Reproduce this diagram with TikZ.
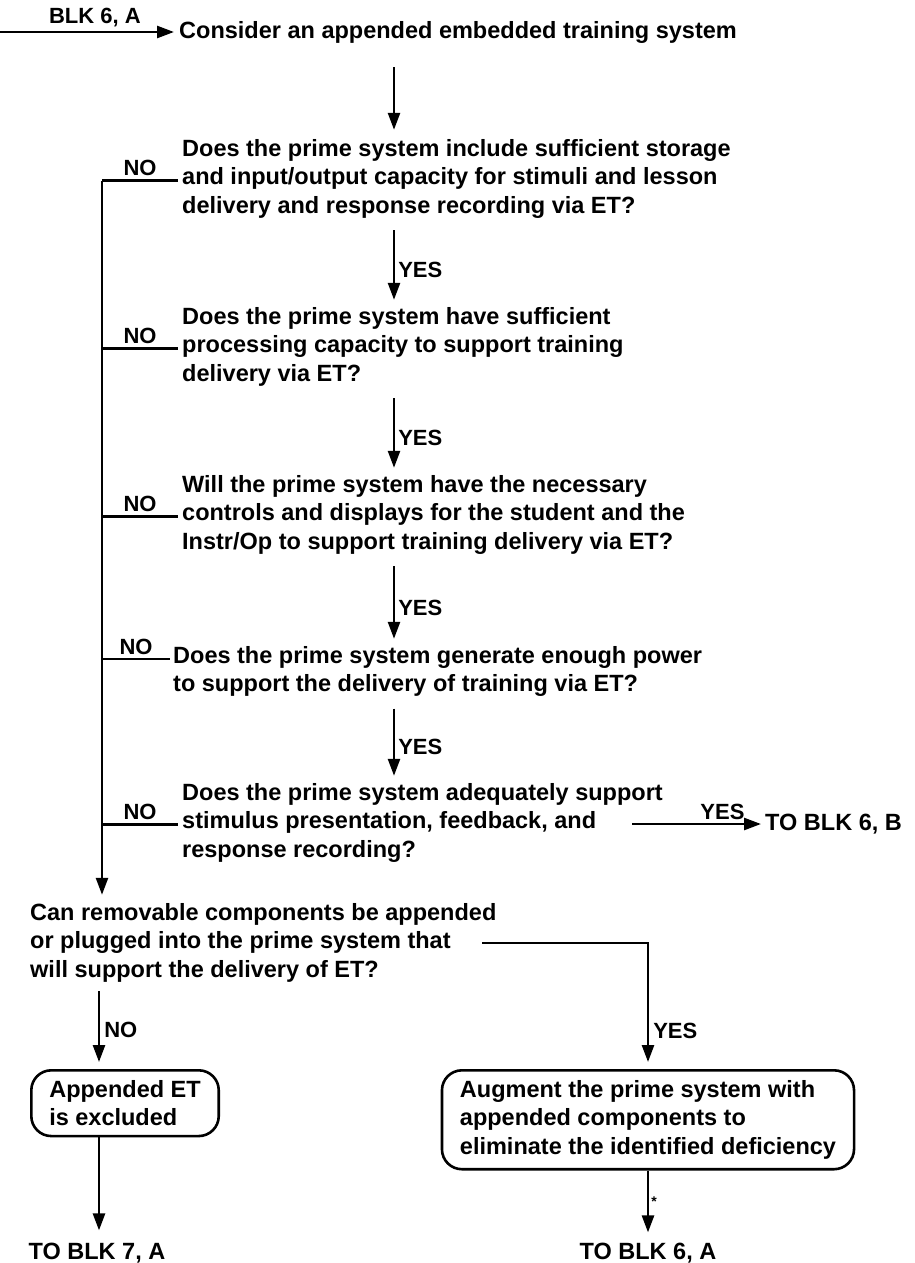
\documentclass[tikz,border=0pt]{standalone}
\usepackage{fontspec}
\setmainfont{Liberation Sans}
\usetikzlibrary{arrows.meta}
\begin{document}
\begin{tikzpicture}[x=1pt,y=-1pt,
  txt/.style={inner sep=0pt, align=left, font=\fontsize{23.5}{28.5}\selectfont\bfseries},
  lbl/.style={inner sep=0pt, font=\fontsize{22}{24}\selectfont\bfseries},
  ln/.style={line width=2.6pt},
  arr/.style={ln, -{Triangle[length=17pt,width=12pt]}},
  box/.style={txt, draw, line width=2.6pt, rounded corners=20pt, inner xsep=18pt, inner ysep=10pt}
]
\useasboundingbox (0,0) rectangle (914,1263);

% guide columns for the vertical connectors
\coordinate (spine) at (102,0);
\coordinate (mid) at (394,0);
\coordinate (colL) at (99,0);

% entry
\coordinate (entry) at (0,32);
\node[txt, anchor=base west] (consider) at (179,38) {Consider an appended embedded training system};
\draw[arr, shorten >=5pt] (entry) -- node[lbl, above=4pt, pos=0.53] {BLK 6, A} (entry -| consider.west);

% questions (anchored at the baseline of their last line)
\node[txt, anchor=base west] (q1) at (182,213) {Does the prime system include sufficient storage\\and input/output capacity for stimuli and lesson\\delivery and response recording via ET?};
\node[txt, anchor=base west] (q2) at (182,381) {Does the prime system have sufficient\\processing capacity to support training\\delivery via ET?};
\node[txt, anchor=base west] (q3) at (182,549) {Will the prime system have the necessary\\controls and displays for the student and the\\Instr/Op to support training delivery via ET?};
\node[txt, anchor=base west] (q4) at (173,691.5) {Does the prime system generate enough power\\to support the delivery of training via ET?};
\node[txt, anchor=base west] (q5) at (182,857) {Does the prime system adequately support\\stimulus presentation, feedback, and\\response recording?};
\node[txt, anchor=base west] (can) at (30,977) {Can removable components be appended\\or plugged into the prime system that\\will support the delivery of ET?};

% outcomes
\node[box, anchor=north west] (excl) at (30,1069) {Appended ET\\is excluded};
\node[box, anchor=north] (aug) at (648,1069) {Augment the prime system with\\appended components to\\eliminate the identified deficiency};
\node[txt, anchor=west] (blkB) at (765,824) {TO BLK 6, B};
\node[txt, anchor=base] (blk7) at (97,1259) {TO BLK 7, A};
\node[txt, anchor=base] (blk6a) at (648,1259) {TO BLK 6, A};

% YES chain
\draw[arr] ([yshift=-24pt]consider.south -| mid) -- ([yshift=9pt]q1.north -| mid);
\draw[arr] ([yshift=-12pt]q1.south -| mid) -- node[lbl, right=3pt, pos=0.57] {YES} ([yshift=7pt]q2.north -| mid);
\draw[arr] ([yshift=-12pt]q2.south -| mid) -- node[lbl, right=3pt, pos=0.57] {YES} ([yshift=7pt]q3.north -| mid);
\draw[arr] ([yshift=-12pt]q3.south -| mid) -- node[lbl, right=3pt, pos=0.57] {YES} ([yshift=7pt]q4.north -| mid);
\draw[arr] ([yshift=-12pt]q4.south -| mid) -- node[lbl, right=3pt, pos=0.57] {YES} ([yshift=7pt]q5.north -| mid);

% NO branches, level with the second (or first) text line
\coordinate (n1) at ([shift={(-4,-32.5)}]q1.base west);
\coordinate (n2) at ([shift={(-4,-32.5)}]q2.base west);
\coordinate (n3) at ([shift={(-4,-32.5)}]q3.base west);
\coordinate (n4) at ([shift={(-3,-32.5)}]q4.base west);
\coordinate (n5) at ([shift={(-4,-32.5)}]q5.base west);
\draw[ln] (spine |- n1) -- node[lbl, above=3pt] {NO} (n1);
\draw[ln] (spine |- n2) -- node[lbl, above=3pt] {NO} (n2);
\draw[ln] (spine |- n3) -- node[lbl, above=3pt] {NO} (n3);
\draw[ln] (spine |- n4) -- node[lbl, above=3pt] {NO} (n4);
\draw[ln] (spine |- n5) -- node[lbl, above=3pt] {NO} (n5);
\draw[arr] (spine |- n1) -- ([yshift=8pt]can.north -| spine);

% last question exits
\coordinate (yB) at (632,824);
\draw[arr, shorten >=4pt] (yB) -- node[lbl, above=3pt, pos=0.68] {YES} (blkB.west);
\coordinate (yC) at (482,943);
\draw[arr] (yC) -- (yC -| aug.north) -- node[lbl, right=4pt, pos=0.74] {YES} ([yshift=7pt]aug.north);
\draw[arr] ([yshift=-9pt]can.south -| colL) -- node[lbl, right=4pt, pos=0.55] {NO} ([yshift=7pt]excl.north -| colL);

% to other blocks
\draw[arr] (excl.south -| colL) -- ([yshift=12pt]blk7.north -| colL);
\draw[arr] (aug.south) -- node[right=2pt, inner sep=0pt, font=\fontsize{14}{14}\selectfont\bfseries, pos=0.5] {*} ([yshift=10pt]blk6a.north);
\end{tikzpicture}
\end{document}
